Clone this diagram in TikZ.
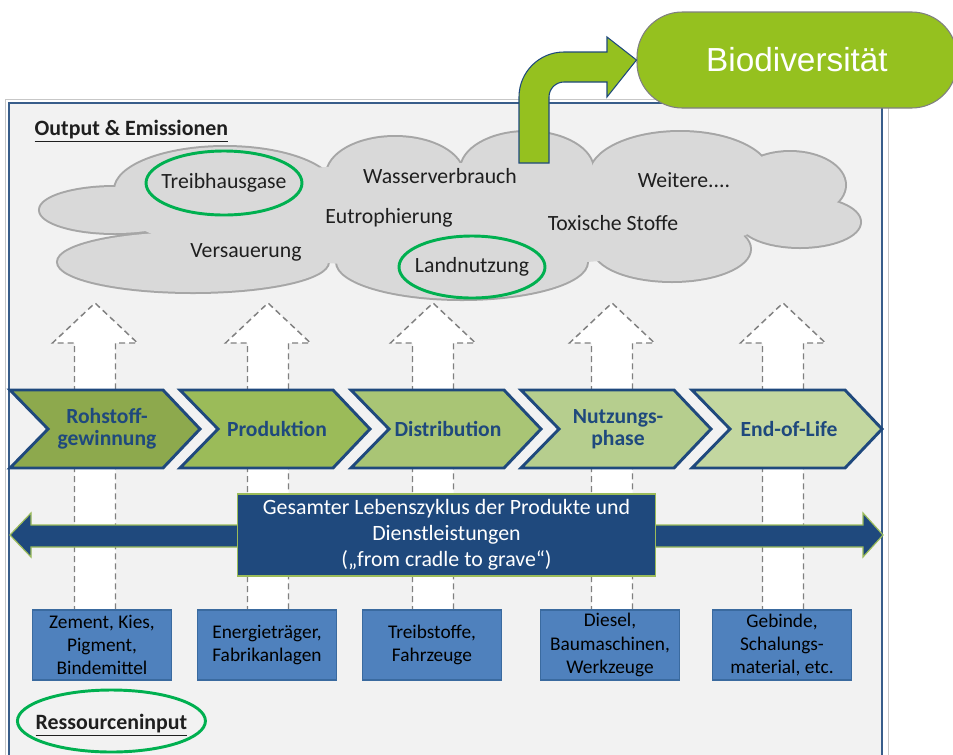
\documentclass[tikz,border=0pt]{standalone}
\usepackage{fontspec}
\setmainfont{Carlito}
\newfontfamily\arialfont{Liberation Sans}
\usetikzlibrary{calc}

\definecolor{framefill}{HTML}{F2F2F2}
\definecolor{frameblue}{HTML}{385D8A}
\definecolor{navy}{HTML}{1F497D}
\definecolor{cloudfill}{HTML}{D9D9D9}
\definecolor{cloudline}{HTML}{A6A6A6}
\definecolor{ringgreen}{HTML}{00B050}
\definecolor{biogreen}{HTML}{95C11F}
\definecolor{boxblue}{HTML}{4F81BD}
\definecolor{boxline}{HTML}{3A6A9F}
\definecolor{lightgreen}{HTML}{9BBB59}
\definecolor{phaseA}{HTML}{8DA94D}
\definecolor{phaseB}{HTML}{9BBB59}
\definecolor{phaseC}{HTML}{A9C575}
\definecolor{phaseD}{HTML}{B6CE8E}
\definecolor{phaseE}{HTML}{C3D7A0}

\begin{document}
\begin{tikzpicture}[x=0.75pt,y=-0.75pt,
    cloudtext/.style={font=\fontsize{16.3}{19}\selectfont,text=black!88},
    ring/.style={draw=ringgreen,line width=2.2pt},
    phase/.style={draw=navy,line width=2.2pt,line join=miter},
    phasetext/.style={font=\bfseries\fontsize{16.2}{16.8}\selectfont,text=navy,align=center},
    resbox/.style={draw=boxline,fill=boxblue,line width=0.8pt,minimum width=104pt,minimum height=52.5pt,
      align=center,inner sep=1pt,font=\fontsize{14.5}{17.5}\selectfont},
    uparrow/.style={fill=white,draw=black!50,line width=1.1pt,dash pattern=on 4.5pt off 3pt},
    heading/.style={anchor=west,font=\bfseries\fontsize{16.4}{19}\selectfont,text=black!88}]
  \useasboundingbox (0,0) rectangle (953,754);

  % frame
  \draw[black!22,line width=0.6pt] (5,99) rectangle (888,770);
  \filldraw[fill=framefill,draw=frameblue,line width=1.5pt] (9,103) rectangle (882,770);

  % cloud
  \foreach \cx/\cy/\rx/\ry in {115/210/75/23, 193/262/135/30, 462/262/125/37, 672/249/78/32,
      800/222/60/25, 790/185/55/33, 680/175/90/43, 527/170/66/38, 395/175/68/38, 225/190/110/43}
    \draw[cloudline,line width=3pt] (\cx,\cy) ellipse [x radius=\rx, y radius=\ry];
  \foreach \cx/\cy/\rx/\ry in {115/210/75/23, 193/262/135/30, 462/262/125/37, 672/249/78/32,
      800/222/60/25, 790/185/55/33, 680/175/90/43, 527/170/66/38, 395/175/68/38, 225/190/110/43,
      450/215/320/52}
    \fill[cloudfill] (\cx,\cy) ellipse [x radius=\rx, y radius=\ry];

  \node[heading] (out) at (30,131) {\underline{Output \& Emissionen}};
  \node[cloudtext] (ghg) at (224,183) {Treibhausgase};
  \node[cloudtext] (water) at (440,176) {Wasserverbrauch};
  \node[cloudtext] (eutro) at (389,218) {Eutrophierung};
  \node[cloudtext] (acid) at (246,252) {Versauerung};
  \node[cloudtext] (land) at (472,267) {Landnutzung};
  \node[cloudtext] (toxic) at (613,223) {Toxische Stoffe};
  \node[cloudtext] (more) at (684,180) {Weitere....};
  \draw[ring] (ghg) ellipse [x radius=78, y radius=32];
  \draw[ring] (land) ellipse [x radius=73, y radius=31];

  % dashed arrows up to the cloud
  \foreach \x in {95,268,433,612,783}
    \filldraw[uparrow] (\x-20.5,612) -- (\x-20.5,343) -- (\x-42.5,343) -- (\x,303)
      -- (\x+42.5,343) -- (\x+20.5,343) -- (\x+20.5,612);

  % life cycle phases
  \foreach \x/\c/\t [count=\i] in {10/phaseA/{Rohstoff-\\gewinnung},180/phaseB/Produktion,
      351/phaseC/Distribution,521/phaseD/{Nutzungs-\\phase},692/phaseE/End-of-Life} {
    \filldraw[phase,fill=\c] (\x,390) -- ++(153,0) -- ++(37,39) -- ++(-37,39) -- ++(-153,0) -- ++(38,-39) -- cycle;
    \node[phasetext] (ph\i) at (\x+97,429) {\t};
  }

  % whole life cycle
  \filldraw[fill=navy,draw=lightgreen,line width=0.9pt] (10,535) -- (31,513) -- (31,525) -- (863,525)
    -- (863,513) -- (883,535) -- (863,557) -- (863,547) -- (31,547) -- (31,557) -- cycle;
  \node[fill=navy,draw=lightgreen,line width=0.9pt,minimum width=314pt,minimum height=61.5pt,
    inner sep=1pt,align=center,text=white,font=\fontsize{16.4}{19.5}\selectfont] (life) at (446.5,535)
    {Gesamter Lebenszyklus der Produkte und\\Dienstleistungen\\(„from cradle to grave“)};

  % resources
  \node[resbox] (res1) at (102,645) {Zement, Kies,\\Pigment,\\Bindemittel};
  \node[resbox] (res2) at (267,645) {Energieträger,\\Fabrikanlagen};
  \node[resbox] (res3) at (432,645) {Treibstoffe,\\Fahrzeuge};
  \node[resbox] (res4) at (610,645) {Diesel,\\Baumaschinen,\\Werkzeuge};
  \node[resbox] (res5) at (782,645) {Gebinde,\\Schalungs-\\material, etc.};

  \node[heading] (resin) at (31,725) {\underline{Ressourceninput}};
  \draw[ring] ($(resin)+(0,-4)$) ellipse [x radius=94, y radius=31];

  % biodiversity
  \node[fill=biogreen,draw=black!50,line width=0.8pt,rounded corners=34pt,minimum width=240pt,
    minimum height=72pt,text=white,font=\arialfont\fontsize{25}{29}\selectfont] (bio) at (797,60) {Biodiversität};
  \filldraw[fill=biogreen,draw=navy,line width=0.8pt] (519,163) -- (519,97)
    arc[start angle=180,end angle=270,radius=45] -- (607,52) -- (607,37) -- (bio.west)
    -- (607,97) -- (607,82) -- (564,82) arc[start angle=270,end angle=180,radius=15] -- (549,163) -- cycle;
\end{tikzpicture}
\end{document}
